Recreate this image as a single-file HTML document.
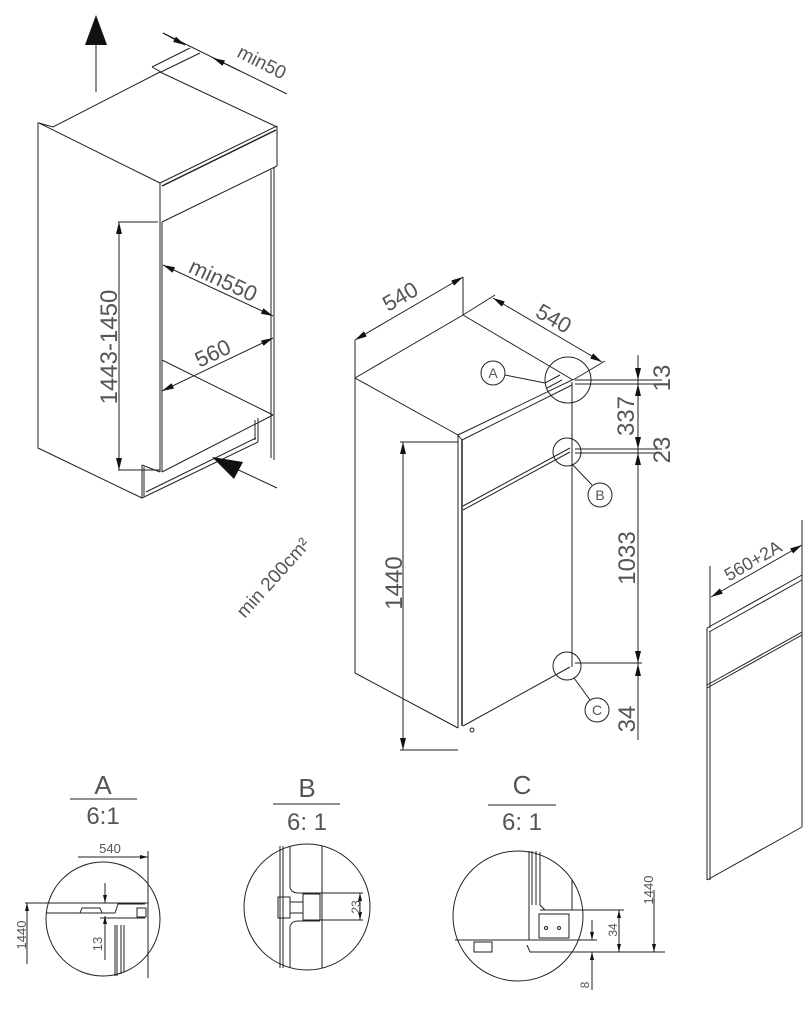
<!DOCTYPE html>
<html><head><meta charset="utf-8"><style>
html,body{margin:0;padding:0;background:#fff;}
svg{display:block}
text{font-family:"Liberation Sans Narrow","Liberation Sans",sans-serif;fill:#555;}
</style></head><body>
<svg width="812" height="1030" viewBox="0 0 812 1030" xmlns="http://www.w3.org/2000/svg">
<defs>
<marker id="a" viewBox="0 0 12 6" refX="12" refY="3" markerWidth="12" markerHeight="6" markerUnits="userSpaceOnUse" orient="auto-start-reverse"><path d="M0,0 L12,3 L0,6z" fill="#111"/></marker>
<marker id="s" viewBox="0 0 8 4" refX="8" refY="2" markerWidth="8" markerHeight="4" markerUnits="userSpaceOnUse" orient="auto-start-reverse"><path d="M0,0 L8,2 L0,4z" fill="#111"/></marker>
</defs>
<g stroke="#222" stroke-width="1" fill="none">
<line x1="96" y1="92" x2="96" y2="40"/>
<polygon points="85,45 107,45 96,15" fill="#111" stroke="none"/>
<polyline points="39,123 53,127 160,72"/>
<polyline points="152,67 190,48"/>
<polyline points="152,67 161,72 200,53"/>
<line x1="160" y1="72" x2="277" y2="127"/>
<line x1="163" y1="33" x2="287" y2="94"/>
<line x1="163" y1="33" x2="185" y2="45" marker-end="url(#a)"/>
<line x1="240" y1="71" x2="213" y2="58" marker-end="url(#a)"/>
<line x1="39" y1="123" x2="160" y2="183"/>
<line x1="160" y1="183" x2="277" y2="126"/>
<line x1="162" y1="186" x2="276" y2="130" stroke-width="1.5"/>
<line x1="160" y1="183" x2="160" y2="222"/>
<line x1="162" y1="222" x2="277" y2="166"/>
<line x1="277" y1="126" x2="277" y2="166"/>
<polyline points="38,122 38,448 142,498"/>
<line x1="160" y1="222" x2="160" y2="472"/>
<line x1="162" y1="222" x2="162" y2="472"/>
<line x1="274" y1="167" x2="274" y2="460"/>
<line x1="271" y1="170" x2="271" y2="458"/>
<line x1="162" y1="472" x2="273" y2="415"/>
<line x1="162" y1="360" x2="273" y2="415"/>
<line x1="142" y1="465" x2="142" y2="498"/>
<line x1="144" y1="467" x2="144" y2="496"/>
<line x1="142" y1="465" x2="160" y2="472"/>
<line x1="142" y1="498" x2="258" y2="442"/>
<line x1="146" y1="492" x2="256" y2="438"/>
<line x1="258" y1="418" x2="258" y2="442"/>
<line x1="255" y1="420" x2="255" y2="440"/>
<line x1="118" y1="222" x2="158" y2="222"/>
<line x1="118" y1="470" x2="160" y2="470"/>
<line x1="119" y1="222" x2="119" y2="470" marker-start="url(#a)" marker-end="url(#a)"/>
<line x1="163" y1="265" x2="273" y2="316" marker-start="url(#a)" marker-end="url(#a)"/>
<line x1="162" y1="391" x2="273" y2="338" marker-start="url(#a)" marker-end="url(#a)"/>
<line x1="277" y1="488" x2="230" y2="466"/>
<polygon points="212,457 243,462 234,479" fill="#111" stroke="none"/>

<line x1="355" y1="340" x2="355" y2="673"/>
<line x1="355" y1="378" x2="463" y2="315"/>
<line x1="463" y1="315" x2="573" y2="380"/>
<line x1="355" y1="378" x2="458" y2="435"/>
<line x1="458" y1="435" x2="572" y2="380"/>
<line x1="462" y1="440" x2="572" y2="385"/>
<line x1="458" y1="435" x2="462" y2="440"/>
<line x1="355" y1="673" x2="458" y2="728"/>
<line x1="458" y1="435" x2="458" y2="728"/>
<line x1="462" y1="440" x2="462" y2="726" stroke-width="1.5"/>
<line x1="463" y1="510" x2="570" y2="452"/>
<line x1="463" y1="506" x2="570" y2="448"/>
<line x1="463" y1="726" x2="570" y2="667"/>
<line x1="572" y1="382" x2="572" y2="667"/>
<circle cx="472" cy="730" r="2"/>
<line x1="545" y1="383" x2="560" y2="375"/>
<line x1="547" y1="388" x2="562" y2="380"/>
<line x1="638" y1="355" x2="638" y2="740"/>
<line x1="575" y1="380" x2="662" y2="380"/>
<line x1="575" y1="384" x2="662" y2="384"/>
<line x1="575" y1="449" x2="662" y2="449"/>
<line x1="575" y1="453" x2="662" y2="453"/>
<line x1="575" y1="663" x2="642" y2="663"/>
<line x1="638" y1="362" x2="638" y2="380" marker-end="url(#a)"/>
<line x1="638" y1="400" x2="638" y2="384" marker-end="url(#a)"/>
<line x1="638" y1="430" x2="638" y2="449" marker-end="url(#a)"/>
<line x1="638" y1="470" x2="638" y2="453" marker-end="url(#a)"/>
<line x1="638" y1="640" x2="638" y2="663" marker-end="url(#a)"/>
<line x1="638" y1="690" x2="638" y2="664" marker-end="url(#a)"/>
<line x1="400" y1="442" x2="458" y2="442"/>
<line x1="400" y1="750" x2="458" y2="750"/>
<line x1="403" y1="442" x2="403" y2="750" marker-start="url(#a)" marker-end="url(#a)"/>
<line x1="463" y1="315" x2="463" y2="277"/>
<line x1="355" y1="340" x2="463" y2="277" marker-start="url(#a)" marker-end="url(#a)"/>
<line x1="463" y1="315" x2="495" y2="295"/>
<line x1="573" y1="380" x2="605" y2="361"/>
<line x1="493" y1="298" x2="602" y2="362" marker-start="url(#a)" marker-end="url(#a)"/>
<circle cx="568" cy="380" r="23"/>
<circle cx="493" cy="373" r="12"/>
<line x1="505" y1="375" x2="545" y2="383"/>
<circle cx="567" cy="452" r="14"/>
<circle cx="600" cy="495" r="12"/>
<line x1="572" y1="464" x2="592" y2="485"/>
<circle cx="567" cy="666" r="14"/>
<circle cx="597" cy="710" r="12"/>
<line x1="574" y1="678" x2="590" y2="700"/>

<line x1="802" y1="520" x2="802" y2="827"/>
<line x1="707" y1="628" x2="802" y2="575"/>
<line x1="709" y1="632" x2="802" y2="580"/>
<line x1="707" y1="628" x2="707" y2="880"/>
<line x1="710" y1="631" x2="710" y2="880"/>
<line x1="707" y1="880" x2="802" y2="827"/>
<line x1="707" y1="688" x2="802" y2="635"/>
<line x1="707" y1="685" x2="802" y2="632"/>
<line x1="710" y1="566" x2="710" y2="628"/>
<line x1="711" y1="597" x2="802" y2="545" marker-start="url(#a)" marker-end="url(#a)"/>

<line x1="70" y1="799" x2="137" y2="799"/>
<circle cx="103" cy="919" r="57"/>
<line x1="78" y1="857" x2="148" y2="857" marker-end="url(#s)"/>
<line x1="148" y1="851" x2="148" y2="978"/>
<line x1="25" y1="903" x2="148" y2="903"/>
<line x1="46" y1="913" x2="115" y2="913"/>
<polyline points="115,913 118,904 145,904"/>
<polyline points="80,913 82,908 100,908 102,913"/>
<line x1="100" y1="918" x2="145" y2="918"/>
<rect x="137" y="908" width="9" height="9"/>
<line x1="115" y1="925" x2="115" y2="976"/>
<line x1="117" y1="925" x2="117" y2="976"/>
<line x1="121" y1="925" x2="121" y2="974"/>
<line x1="124" y1="925" x2="124" y2="972"/>
<line x1="27" y1="964" x2="27" y2="903" marker-end="url(#s)"/>
<line x1="105" y1="883" x2="105" y2="903" marker-end="url(#s)"/>
<line x1="105" y1="960" x2="105" y2="916" marker-end="url(#s)"/>

<line x1="273" y1="804" x2="340" y2="804"/>
<circle cx="307" cy="907" r="63"/>
<line x1="280" y1="846" x2="280" y2="968"/>
<line x1="283" y1="846" x2="283" y2="968"/>
<line x1="290" y1="846" x2="290" y2="888"/>
<line x1="290" y1="926" x2="290" y2="968"/>
<line x1="322" y1="846" x2="322" y2="968"/>
<path d="M290,888 Q292,893 298,893 L320,893"/>
<path d="M290,926 Q292,921 298,921 L320,921"/>
<rect x="278" y="897" width="12" height="21"/>
<line x1="290" y1="902" x2="303" y2="902"/>
<line x1="290" y1="913" x2="303" y2="913"/>
<rect x="303" y="894" width="17" height="26"/>
<line x1="320" y1="893" x2="363" y2="893"/>
<line x1="320" y1="920" x2="363" y2="920"/>
<line x1="360" y1="906" x2="360" y2="893" marker-end="url(#s)"/>
<line x1="360" y1="906" x2="360" y2="920" marker-end="url(#s)"/>

<line x1="488" y1="805" x2="556" y2="805"/>
<circle cx="518" cy="916" r="65"/>
<line x1="529" y1="851" x2="529" y2="940"/>
<line x1="532" y1="851" x2="532" y2="905"/>
<line x1="536" y1="851" x2="536" y2="905"/>
<polyline points="540,852 540,905 545,910 572,910 572,880"/>
<rect x="539" y="914" width="30" height="24"/>
<circle cx="546" cy="928" r="1.5"/>
<circle cx="559" cy="928" r="1.5"/>
<line x1="540" y1="910" x2="624" y2="910"/>
<line x1="455" y1="940" x2="597" y2="940"/>
<line x1="540" y1="952" x2="665" y2="952"/>
<rect x="474" y="942" width="18" height="10"/>
<polyline points="527,945 530,952 545,952"/>
<line x1="619" y1="930" x2="619" y2="910" marker-end="url(#s)"/>
<line x1="619" y1="930" x2="619" y2="952" marker-end="url(#s)"/>
<line x1="654" y1="890" x2="654" y2="952" marker-end="url(#s)"/>
<line x1="592" y1="920" x2="592" y2="940" marker-end="url(#s)"/>
<line x1="592" y1="990" x2="592" y2="952" marker-end="url(#s)"/>
</g>

<g font-size="22">
<text transform="translate(117,347) rotate(-90)" text-anchor="middle" font-size="24">1443-1450</text>
<text transform="translate(220,287) rotate(25)" text-anchor="middle">min550</text>
<text transform="translate(216,360) rotate(-25.5)" text-anchor="middle">560</text>
<text transform="translate(259,68) rotate(27)" text-anchor="middle" font-size="19">min50</text>
<text transform="translate(278,582) rotate(-48)" text-anchor="middle" font-size="19">min 200cm²</text>
<text transform="translate(404,303) rotate(-30)" text-anchor="middle">540</text>
<text transform="translate(550,325) rotate(30)" text-anchor="middle">540</text>
<text transform="translate(402,583) rotate(-90)" text-anchor="middle" font-size="24">1440</text>
<text transform="translate(670,378) rotate(-90)" text-anchor="middle" font-size="24">13</text>
<text transform="translate(634,416) rotate(-90)" text-anchor="middle" font-size="24">337</text>
<text transform="translate(670,450) rotate(-90)" text-anchor="middle" font-size="24">23</text>
<text transform="translate(635,558) rotate(-90)" text-anchor="middle" font-size="24">1033</text>
<text transform="translate(635,719) rotate(-90)" text-anchor="middle" font-size="24">34</text>
<text transform="translate(756,566) rotate(-30)" text-anchor="middle" font-size="18">560+2A</text>
</g>
<g font-size="14" text-anchor="middle">
<text x="493" y="378">A</text>
<text x="600" y="500">B</text>
<text x="597" y="715">C</text>
</g>
<g text-anchor="middle">
<text x="103" y="794" font-size="26">A</text>
<text x="103" y="824" font-size="24">6:1</text>
<text x="307" y="797" font-size="26">B</text>
<text x="307" y="830" font-size="24">6: 1</text>
<text x="522" y="794" font-size="26">C</text>
<text x="522" y="830" font-size="24">6: 1</text>
<text x="110" y="853" font-size="13">540</text>
<text transform="translate(26,935) rotate(-90)" font-size="13">1440</text>
<text transform="translate(102,944) rotate(-90)" font-size="13">13</text>
<text transform="translate(360,907) rotate(-90)" font-size="12">23</text>
<text transform="translate(617,930) rotate(-90)" font-size="12">34</text>
<text transform="translate(653,890) rotate(-90)" font-size="13">1440</text>
<text transform="translate(589,985) rotate(-90)" font-size="12">8</text>
</g>
</svg>
</body></html>
